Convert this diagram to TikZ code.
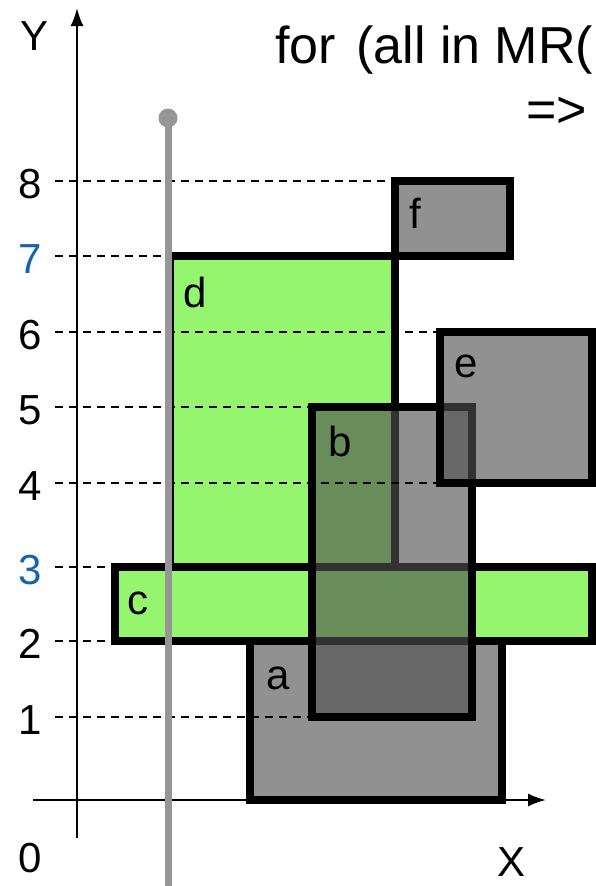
\documentclass[tikz,border=0pt]{standalone}
\usepackage{fontspec}
\setmainfont{Liberation Sans}
\usetikzlibrary{arrows.meta}
\definecolor{boxgrey}{RGB}{80,80,80}
\definecolor{boxgreen}{RGB}{150,245,110}
\definecolor{sweepgrey}{RGB}{150,150,150}
\definecolor{levelblue}{RGB}{20,100,180}
\begin{document}
\begin{tikzpicture}[x=1pt, y=-1pt, >={Latex[length=18pt,width=13pt]},
	font=\fontsize{42pt}{50pt}\selectfont,
	box/.style={line width=8pt, draw=black},
	greybox/.style={box, fill=boxgrey, fill opacity=0.63},
	greenbox/.style={box, fill=boxgreen},
	guide/.style={line width=2pt, dash pattern=on 8pt off 6pt},
	lbl/.style={inner sep=0pt, anchor=center}]
	
	% 1. Picture frame (pixels of the reference)
	\def\xmax{596}
	\def\ymax{886}
	\useasboundingbox (0,0) rectangle (\xmax,\ymax);
	\clip (0,0) rectangle (\xmax,\ymax);
	
	% 2. Axes
	\coordinate (O) at (77,800);
	\draw[->, line width=2pt] (77,838) -- (77,8);
	\draw[->, line width=2pt] (33,800) -- (546,800);
	\node[lbl] (ylab) at (35,36) {Y};
	\node[lbl] (xlab) at (512,862) {X};
	\node[lbl] (zero) at (30,858) {0};
	
	% 3. Rectangles, drawn in this order
	\draw[greybox]  (250,641) rectangle (502,800); % a
	\draw[greenbox] (115,567) rectangle (592,641); % c
	\draw[greenbox] (170,256) rectangle (395,567); % d
	\draw[greybox]  (312,407) rectangle (472,717); % b
	\draw[greybox]  (440,332) rectangle (592,483); % e
	\draw[greybox]  (395,181) rectangle (510,256); % f
	
	\node[lbl] (a) at (278,678) {a};
	\node[lbl] (b) at (340,441) {b};
	\node[lbl] (c) at (138,603) {c};
	\node[lbl] (d) at (195,292) {d};
	\node[lbl] (e) at (466,366) {e};
	\node[lbl] (f) at (415,213) {f};
	
	% 4. Levels on the Y axis with their dashed guides
	\foreach \k/\y/\xend/\col in {8/181/395/black, 7/256/170/levelblue,
		6/332/440/black, 5/407/312/black, 4/483/440/black,
		3/567/115/levelblue, 2/641/115/black, 1/717/312/black}{
		\node[lbl, text=\col] (lev\k) at (30,\y+3) {\k};
		\coordinate (gs\k) at (55,\y);
		\coordinate (ge\k) at (\xend,\y);
		\draw[guide] (gs\k) -- (ge\k);
	}
	
	% 5. Sweep line
	\coordinate (top) at (168,118);
	\coordinate (bot) at (168,\ymax);
	\draw[sweepgrey, line width=7pt] (top) -- (bot);
	\fill[sweepgrey] (top) circle (9.5pt);
	
	% 6. Title
	\node[inner sep=0pt, anchor=west, font=\fontsize{52pt}{60pt}\selectfont]
		(title) at (275,50) {for\hspace{6pt} (all in MR(};
	\node[inner sep=0pt, anchor=west, font=\fontsize{52pt}{60pt}\selectfont]
		(arrow) at (526,112) {=>};
	
\end{tikzpicture}
\end{document}
